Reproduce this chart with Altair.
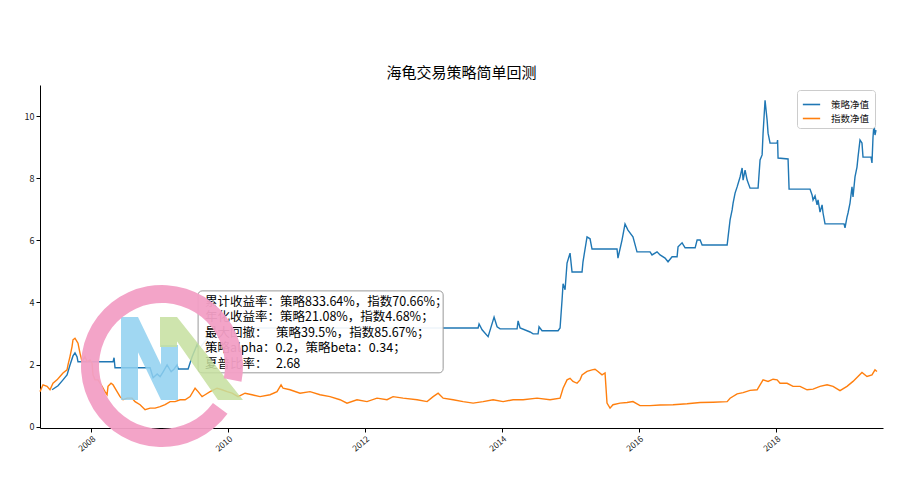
import altair as alt
import pandas as pd

# ---------------- data ----------------
series_names = ["策略净值", "指数净值"]
series_colors = ["#1f77b4", "#ff7f0e"]

strategy_years = [
    2007.431, 2007.518, 2007.591, 2007.650, 2007.693, 2007.737, 2007.766, 2007.796, 2007.810, 2008.321,
    2008.336, 2008.350, 2008.861, 2008.905, 2008.964, 2009.007, 2009.051, 2009.109, 2009.168, 2009.212,
    2009.255, 2009.270, 2009.416, 2009.474, 2009.547, 2009.577, 2009.737, 2009.956, 2010.467, 2011.051,
    2013.139, 2013.650, 2013.664, 2013.708, 2013.796, 2013.883, 2013.927, 2013.971, 2014.219, 2014.234,
    2014.263, 2014.409, 2014.453, 2014.526, 2014.540, 2014.584, 2014.818, 2014.847, 2014.876, 2014.891,
    2014.920, 2014.949, 2014.993, 2015.022, 2015.168, 2015.182, 2015.241, 2015.285, 2015.314, 2015.679,
    2015.693, 2015.752, 2015.796, 2015.839, 2015.912, 2015.971, 2016.161, 2016.190, 2016.263, 2016.307,
    2016.380, 2016.423, 2016.482, 2016.555, 2016.569, 2016.628, 2016.672, 2016.818, 2016.847, 2016.891,
    2016.920, 2017.285, 2017.299, 2017.328, 2017.358, 2017.372, 2017.401, 2017.431, 2017.474, 2017.504,
    2017.518, 2017.547, 2017.577, 2017.620, 2017.737, 2017.766, 2017.796, 2017.810, 2017.839, 2017.869,
    2017.883, 2017.912, 2018.015, 2018.022, 2018.029, 2018.175, 2018.190, 2018.496, 2018.526, 2018.540,
    2018.569, 2018.599, 2018.613, 2018.642, 2018.672, 2018.686, 2018.715, 2018.993, 2019.007, 2019.036,
    2019.051, 2019.080, 2019.109, 2019.124, 2019.153, 2019.182, 2019.197, 2019.226, 2019.255, 2019.270,
    2019.387, 2019.401, 2019.416, 2019.431, 2019.445, 2019.460,
]
strategy_values = [
    1.19, 1.32, 1.51, 1.67, 1.99, 2.28, 2.38, 2.25, 2.09, 2.09,
    2.22, 1.90, 1.90, 1.58, 1.70, 1.61, 1.77, 1.99, 1.77, 1.86,
    1.99, 1.86, 1.86, 2.25, 2.64, 2.51, 2.96, 3.18, 3.18, 3.18,
    3.18, 3.18, 3.31, 3.12, 2.90, 3.53, 3.22, 3.15, 3.15, 3.41,
    3.18, 3.05, 2.99, 2.99, 3.22, 3.09, 3.09, 3.18, 4.08, 4.60,
    4.41, 5.27, 5.59, 4.98, 4.98, 5.31, 6.11, 6.05, 5.72, 5.72,
    5.43, 6.01, 6.53, 6.33, 6.11, 5.63, 5.63, 5.53, 5.63, 5.53,
    5.43, 5.31, 5.47, 5.47, 5.79, 5.92, 5.76, 5.76, 6.01, 6.01,
    5.85, 5.85, 6.11, 6.66, 6.98, 7.20, 7.52, 7.72, 8.04, 8.33,
    7.94, 8.26, 7.94, 7.68, 7.68, 8.59, 8.75, 9.45, 10.51, 9.87,
    9.45, 9.13, 9.13, 9.23, 8.65, 8.62, 7.65, 7.65, 7.46, 7.30,
    7.43, 7.14, 7.30, 6.91, 7.14, 6.88, 6.53, 6.53, 6.40, 6.75,
    6.88, 7.20, 7.72, 7.40, 8.04, 8.36, 8.68, 9.23, 9.13, 8.68,
    8.68, 8.49, 9.32, 9.77, 9.39, 9.55,
]

index_years = [
    2007.255, 2007.299, 2007.358, 2007.401, 2007.445, 2007.504, 2007.547, 2007.591, 2007.650, 2007.664,
    2007.693, 2007.723, 2007.737, 2007.766, 2007.796, 2007.810, 2007.839, 2007.869, 2007.912, 2007.942,
    2007.985, 2008.015, 2008.029, 2008.058, 2008.102, 2008.161, 2008.204, 2008.234, 2008.248, 2008.292,
    2008.321, 2008.380, 2008.423, 2008.467, 2008.526, 2008.599, 2008.642, 2008.715, 2008.788, 2008.861,
    2008.934, 2009.007, 2009.080, 2009.153, 2009.226, 2009.299, 2009.372, 2009.445, 2009.518, 2009.562,
    2009.620, 2009.664, 2009.737, 2009.839, 2009.912, 2009.985, 2010.058, 2010.146, 2010.248, 2010.350,
    2010.467, 2010.613, 2010.715, 2010.774, 2010.803, 2010.905, 2011.051, 2011.197, 2011.343, 2011.489,
    2011.635, 2011.737, 2011.883, 2012.029, 2012.175, 2012.321, 2012.409, 2012.555, 2012.759, 2012.905,
    2012.993, 2013.066, 2013.139, 2013.285, 2013.431, 2013.577, 2013.723, 2013.869, 2014.015, 2014.161,
    2014.307, 2014.511, 2014.701, 2014.847, 2014.891, 2014.949, 2014.993, 2015.036, 2015.095, 2015.139,
    2015.168, 2015.241, 2015.314, 2015.358, 2015.401, 2015.460, 2015.504, 2015.533, 2015.577, 2015.620,
    2015.723, 2015.825, 2015.912, 2016.015, 2016.161, 2016.307, 2016.496, 2016.701, 2016.891, 2017.080,
    2017.285, 2017.328, 2017.431, 2017.518, 2017.620, 2017.723, 2017.766, 2017.810, 2017.883, 2017.956,
    2018.015, 2018.058, 2018.161, 2018.248, 2018.350, 2018.453, 2018.540, 2018.642, 2018.745, 2018.832,
    2018.934, 2019.036, 2019.124, 2019.255, 2019.328, 2019.401, 2019.445, 2019.474,
]
index_values = [
    1.13, 1.35, 1.30, 1.19, 1.40, 1.51, 1.62, 1.73, 1.83, 1.99,
    2.26, 2.58, 2.80, 2.85, 2.74, 2.69, 2.37, 2.10, 2.26, 2.10,
    2.15, 2.05, 1.67, 1.51, 1.51, 1.30, 1.13, 1.03, 1.30, 1.40,
    1.35, 1.13, 0.97, 0.87, 0.92, 0.92, 0.81, 0.71, 0.55, 0.60,
    0.60, 0.65, 0.71, 0.81, 0.81, 0.87, 0.87, 0.97, 1.24, 1.13,
    0.97, 1.03, 1.13, 1.24, 1.19, 1.13, 1.08, 0.97, 1.08, 1.03,
    0.97, 1.03, 1.13, 1.35, 1.24, 1.19, 1.08, 1.13, 1.03, 0.97,
    0.87, 0.76, 0.87, 0.81, 0.92, 0.87, 0.97, 0.92, 0.87, 0.81,
    0.97, 1.08, 0.92, 0.87, 0.81, 0.76, 0.81, 0.87, 0.81, 0.87,
    0.87, 0.92, 0.87, 0.92, 1.24, 1.51, 1.56, 1.46, 1.40, 1.51,
    1.67, 1.78, 1.83, 1.85, 1.78, 1.67, 1.73, 0.76, 0.60, 0.71,
    0.76, 0.78, 0.81, 0.68, 0.68, 0.70, 0.71, 0.74, 0.78, 0.79,
    0.81, 0.92, 1.06, 1.10, 1.17, 1.19, 1.35, 1.51, 1.46, 1.53,
    1.51, 1.40, 1.40, 1.30, 1.30, 1.19, 1.21, 1.30, 1.35, 1.30,
    1.16, 1.30, 1.46, 1.75, 1.62, 1.67, 1.83, 1.78,
]

tick_years = [2008, 2010, 2012, 2014, 2016, 2018]
y_ticks = [0, 2, 4, 6, 8, 10]
x_range = [2007.255, 2019.562]
y_range = [-0.04, 11.0]

title_text = "海龟交易策略简单回测"
annotation_lines = [
    "累计收益率：策略833.64%，指数70.66%；",
    "年化收益率：策略21.08%，指数4.68%；",
    "最大回撤：\u00a0\u00a0\u00a0策略39.5%，指数85.67%；",
    "策略alpha：0.2，策略beta：0.34；",
    "夏普比率：\u00a0\u00a0\u00a02.68",
]
box_x = [2009.562, 2013.139]
box_y = [1.736, 4.373]
text_anchor = [2009.664, 4.21]

# ---------------- helpers ----------------
def to_date(yf):
    y = int(yf)
    start = pd.Timestamp(year=y, month=1, day=1)
    end = pd.Timestamp(year=y + 1, month=1, day=1)
    return (start + (end - start) * (yf - y)).strftime("%Y-%m-%dT%H:%M:%S")

FONT = "Noto Sans CJK SC"
W, H = 843, 343
LINE_PX = 15.5  # annotation line spacing in pixels

strat_df = pd.DataFrame({"date": [to_date(v) for v in strategy_years],
                         "value": strategy_values, "series": series_names[0]})
index_df = pd.DataFrame({"date": [to_date(v) for v in index_years],
                         "value": index_values, "series": series_names[1]})

x_scale = alt.Scale(domain=[to_date(x_range[0]), to_date(x_range[1])])
y_scale = alt.Scale(domain=y_range, nice=False, zero=False)

x_axis = alt.Axis(values=[alt.DateTime(year=y, month=1, date=1) for y in tick_years],
                  format="%Y", labelAngle=-40, labelFontSize=8.5, labelPadding=2,
                  title=None, grid=False)
y_axis = alt.Axis(values=y_ticks, labelFontSize=9, labelPadding=2, title=None, grid=False)

color = alt.Color("series:N",
                  scale=alt.Scale(domain=series_names, range=series_colors),
                  legend=alt.Legend(title=None, orient="none", legendX=757, legendY=5,
                                    symbolType="stroke", symbolSize=300, symbolStrokeWidth=1.6,
                                    labelFont=FONT, labelFontSize=9.5, labelColor="#111",
                                    labelOffset=10, padding=5, rowPadding=0,
                                    strokeColor="#cccccc", cornerRadius=3, fillColor="white"))

blue = alt.Chart(strat_df).mark_line(strokeWidth=1.4).encode(
    x=alt.X("date:T", scale=x_scale, axis=x_axis),
    y=alt.Y("value:Q", scale=y_scale, axis=y_axis),
    color=color,
)
orange = alt.Chart(index_df).mark_line(strokeWidth=1.4).encode(
    x=alt.X("date:T", scale=x_scale, axis=x_axis),
    y=alt.Y("value:Q", scale=y_scale, axis=y_axis),
    color=color,
)

box_df = pd.DataFrame({"x": [to_date(box_x[0])], "x2": [to_date(box_x[1])],
                       "y": [box_y[0]], "y2": [box_y[1]]})
box = alt.Chart(box_df).mark_rect(fill="white", fillOpacity=0.92, stroke="#999999",
                                  strokeWidth=1, cornerRadius=4).encode(
    x=alt.X("x:T", scale=x_scale, axis=x_axis), x2="x2:T",
    y=alt.Y("y:Q", scale=y_scale, axis=y_axis), y2="y2:Q",
)

text_layers = []
for i, line in enumerate(annotation_lines):
    tdf = pd.DataFrame({"x": [to_date(text_anchor[0])], "y": [text_anchor[1]], "t": [line]})
    text_layers.append(
        alt.Chart(tdf).mark_text(align="left", baseline="top", fontSize=12.5, dy=i * LINE_PX,
                                 font=FONT, color="black").encode(
            x=alt.X("x:T", scale=x_scale, axis=x_axis),
            y=alt.Y("y:Q", scale=y_scale, axis=y_axis),
            text="t:N",
        )
    )

# ---------------- watermark logo (decoration) ----------------
one = pd.DataFrame({"k": [0]})
logo_blue = alt.Chart(one).mark_point(
    shape="M0,0 L17,0 L17,83 L0,83 Z M0,0 L17,0 L57,83 L40,83 Z M40,28 L57,28 L57,83 L40,83 Z",
    size=4, filled=True, color="#8fd0f0", opacity=0.85, strokeWidth=0,
).encode(x=alt.value(81), y=alt.value(232))
logo_green = alt.Chart(one).mark_point(
    shape="M39,0 L56,0 L56,30 L39,30 Z M39,0 L56,0 L122,83 L97,83 Z",
    size=4, filled=True, color="#c6df9f", opacity=0.85, strokeWidth=0,
).encode(x=alt.value(81), y=alt.value(232))
ring = alt.Chart(one).mark_arc(
    theta=2.2, theta2=2.2 + 5.85, radius=81, radius2=63, color="#f29fc5", opacity=0.95,
).encode(x=alt.value(122), y=alt.value(281))

chart = alt.layer(blue, orange, box, *text_layers, logo_blue, logo_green, ring).properties(
    width=W, height=H,
    title=alt.Title(title_text, fontSize=15, font=FONT, fontWeight="normal",
                    color="black", offset=4),
    autosize=alt.AutoSizeParams(type="none"),
    padding={"left": 32, "top": 77, "right": 10, "bottom": 45},
).configure_view(stroke=None).configure_axis(
    domainColor="black", tickColor="black", labelColor="#222", labelFont=FONT,
    tickSize=4, domainWidth=1, tickWidth=1,
)

chart.save("out.html", embed_options={"renderer": "svg", "actions": False})
